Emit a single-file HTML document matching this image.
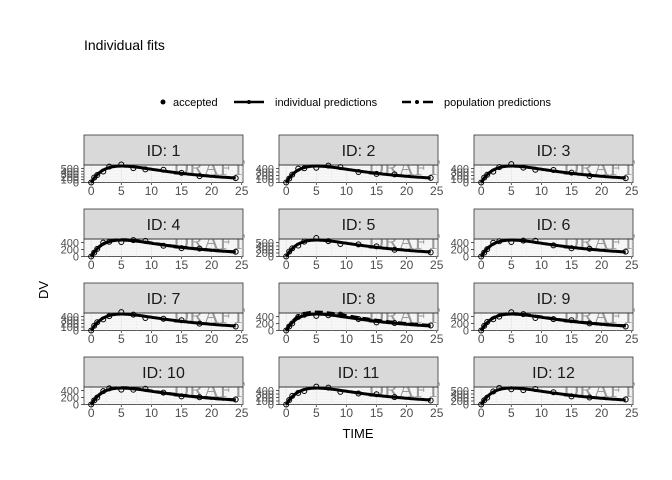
<!DOCTYPE html>
<html><head><meta charset="utf-8"><style>
body{margin:0;background:#fff}
svg{display:block;font-family:"Liberation Sans",sans-serif}
.s{fill:#d9d9d9;stroke:#333;stroke-width:0.8}
.p{fill:#f8f8f8;stroke:#333;stroke-width:0.8}
.xt{font-size:12px;fill:#4d4d4d;text-anchor:middle}
.yt{font-size:11px;fill:#4d4d4d;text-anchor:end}
.lb{font-size:16px;fill:#1a1a1a;text-anchor:middle}
</style></head><body>
<svg id="c" width="672" height="480" viewBox="0 0 672 480">
<text x="84" y="50" font-size="14" fill="#000">Individual fits</text>
<circle cx="163" cy="102" r="2.5" fill="#000"/><text x="173" y="106" font-size="11">accepted</text>
<line x1="234" y1="102" x2="264" y2="102" stroke="#000" stroke-width="2.5"/><circle cx="249" cy="102" r="2" fill="#000"/>
<text x="275" y="106" font-size="11">individual predictions</text>
<line x1="402" y1="102" x2="411" y2="102" stroke="#000" stroke-width="2.5"/><circle cx="417" cy="102" r="2" fill="#000"/><line x1="423" y1="102" x2="433" y2="102" stroke="#000" stroke-width="2.5"/>
<text x="444" y="106" font-size="11">population predictions</text>
<text transform="translate(48,290) rotate(-90)" font-size="13" text-anchor="middle">DV</text>
<text x="358" y="438" font-size="13" text-anchor="middle">TIME</text>
</svg>
<script>
var svg=document.getElementById('c'),NS='http://www.w3.org/2000/svg';
var ylab=[["500","400","300","200","100","0"],["400","300","200","100","0"],["400","300","200","100","0"],["400","200","0"],["500","400","300","200","0"],["400","200","0"],["400","300","200","100","0"],["400","200","0"],["400","200","0"],["400","200","0"],["400","300","200","100","0"],["500","400","300","200","0"]];
function el(t,a,p){var e=document.createElementNS(NS,t);for(var k in a)e.setAttribute(k,a[k]);(p||svg).appendChild(e);return e}
function f(t){return (Math.exp(-0.08*t)-Math.exp(-0.4*t))/0.536}
var times=[0,0.5,1,2,3,5,7,9,12,15,18,24];
for(var i=0;i<12;i++){
 var c=i%3,r=Math.floor(i/3),x0=84+195*c,y0=135+74*r;
 var g=el('g',{transform:'translate('+x0+','+y0+')'});
 el('rect',{x:0,y:30,width:159,height:17.5,'class':'p'},g);
 var X=function(v){return 7.2+v*6.02},Y=function(v){return 47.5-v*16.5};
 for(var k=0;k<=25;k+=2.5)el('line',{x1:X(k),x2:X(k),y1:30,y2:47.5,stroke:'#e6e6e6','stroke-width':k%5?0.4:0.8},g);
 for(var k=1;k<6;k++)el('line',{x1:0,x2:159,y1:30+k*3,y2:30+k*3,stroke:'#e6e6e6','stroke-width':0.6},g);
 var d=el('text',{x:125,y:40,'font-size':22,fill:'#999','text-anchor':'middle','font-family':'Liberation Serif'},g);d.textContent='DRAFT';
 el('rect',{x:0,y:0,width:159,height:30,'class':'s'},g);
 var t=el('text',{x:79.5,y:21,'class':'lb'},g);t.textContent='ID: '+(i+1);
 el('line',{x1:0,x2:159,y1:30,y2:30,stroke:'#333','stroke-width':0.8},g);
 var pts='';for(var s=0;s<=24;s+=0.25)pts+=X(s).toFixed(1)+','+Y(f(s)).toFixed(1)+' ';
 if(i==3||i==7||i==8||i==9){var sc=i==7?1.12:1.02,pp='';for(var s=0;s<=24;s+=0.25)pp+=X(s).toFixed(1)+','+Y(Math.min(1.12,f(s)*sc)).toFixed(1)+' ';
  el('polyline',{points:pp,fill:'none',stroke:'#000','stroke-width':3,'stroke-dasharray':'8,4'},g);}
 el('polyline',{points:pts,fill:'none',stroke:'#000','stroke-width':3},g);
 for(var j=0;j<times.length;j++){var tt=times[j],v=f(tt)*(1+0.12*Math.sin(i*3+j*1.7));
  el('circle',{cx:X(tt),cy:Math.max(29,Y(v)),r:2.5,fill:'none',stroke:'#000','stroke-width':1},g);}
 for(var k=0;k<=25;k+=5){var tx=el('text',{x:X(k),y:60,'class':'xt'},g);tx.textContent=k;
  el('line',{x1:X(k),x2:X(k),y1:47.5,y2:50,stroke:'#333','stroke-width':0.8},g);}
 var L=ylab[i];for(var k=0;k<L.length;k++){var yy=47.5-k*(14/(L.length-1));
  var ty=el('text',{x:-5,y:(yy+4).toFixed(1),'class':'yt'},g);ty.textContent=L[L.length-1-k];
  el('line',{x1:-3,x2:0,y1:yy,y2:yy,stroke:'#333','stroke-width':0.8},g);}
}
</script>
</body></html>
